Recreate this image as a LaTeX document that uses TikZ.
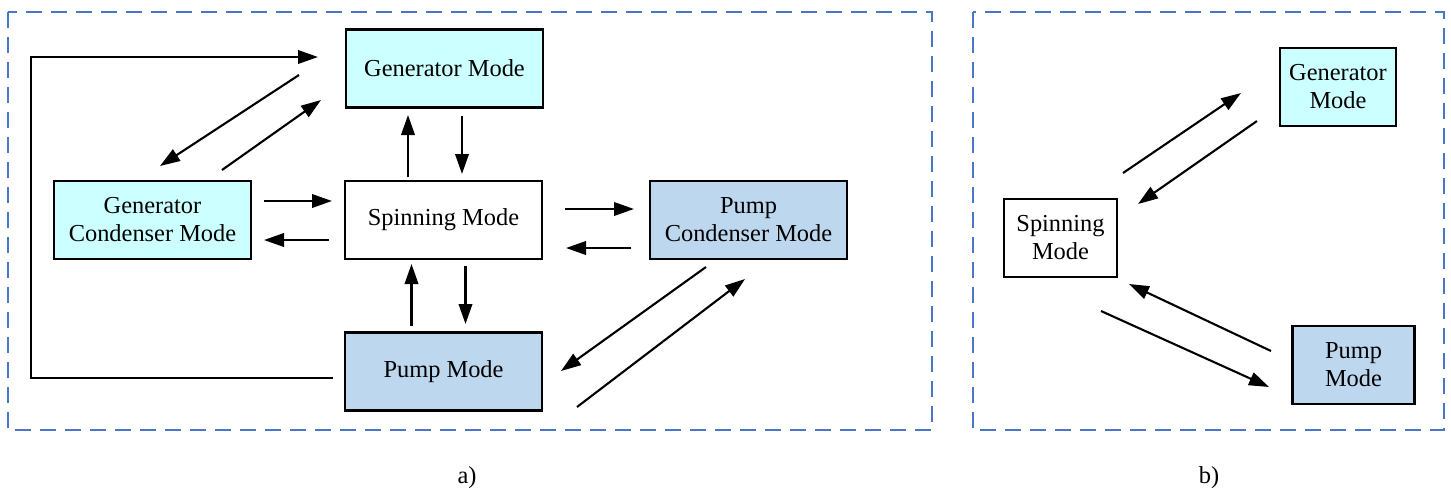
\documentclass[tikz,border=0pt]{standalone}
\usepackage{fontspec}
\setmainfont{Liberation Serif}
\usetikzlibrary{arrows.meta}
\definecolor{gcyan}{HTML}{CCFFFF}
\definecolor{pblue}{HTML}{BDD7EE}
\definecolor{frameblue}{HTML}{4A76C8}
\begin{document}
\begin{tikzpicture}[x=1pt,y=-1pt,
  mode/.style={draw=black,line width=2.2pt,inner sep=0pt,align=center,
    minimum width=197pt,minimum height=78pt,
    font=\fontsize{24.4}{28}\selectfont},
  genmode/.style={mode,fill=gcyan},
  pumpmode/.style={mode,fill=pblue},
  spinmode/.style={mode,fill=white},
  arr/.style={line width=2.1pt,-{Triangle[length=20pt,width=13.5pt]}},
  frame/.style={draw=frameblue,line width=2pt,dash pattern=on 16pt off 9pt},
  lbl/.style={font=\fontsize{24.4}{28}\selectfont}]
\useasboundingbox (0,0) rectangle (1451,491);
% frames
\draw[frame] (8,12) rectangle (932,430);
\draw[frame] (973,12) rectangle (1444,430);
% panel a nodes
\node[genmode]  (gen)   at (444.5,68.5) {Generator Mode};
\node[genmode]  (gcond) at (152.5,220) {Generator\\Condenser Mode};
\node[spinmode] (spin)  at (443.5,220) {Spinning Mode};
\node[pumpmode] (pcond) at (748.5,220) {Pump\\Condenser Mode};
\node[pumpmode] (pump)  at (443.5,371.5) {Pump Mode};
\coordinate (lpb) at (31,378);
\coordinate (lpt) at (31,57);
% panel a connectors
\draw[arr] ([shift={(-111,6.5)}]pump.center) -- (lpb) -- (lpt) -- ([shift={(-126.5,-11.5)}]gen.center);
\draw[arr] ([shift={(-145.5,6.5)}]gen.center) -- ([shift={(7.5,-54)}]gcond.center);
\draw[arr] ([shift={(69.5,-50)}]gcond.center) -- ([shift={(-123.5,31.5)}]gen.center);
\draw[arr] ([shift={(-35.5,-43)}]spin.center) -- ([shift={(-36.5,46.5)}]gen.center);
\draw[arr] ([shift={(17.5,47.5)}]gen.center) -- ([shift={(18.5,-46)}]spin.center);
\draw[arr] ([shift={(111.5,-19)}]gcond.center) -- ([shift={(-111.5,-19)}]spin.center);
\draw[arr] ([shift={(-114.5,20)}]spin.center) -- ([shift={(111.5,20)}]gcond.center);
\draw[arr] ([shift={(-32,-45.5)}]pump.center) -- ([shift={(-32,44)}]spin.center);
\draw[arr] ([shift={(22,46)}]spin.center) -- ([shift={(22,-47.5)}]pump.center);
\draw[arr] ([shift={(121.5,-11)}]spin.center) -- ([shift={(-114.5,-11)}]pcond.center);
\draw[arr] ([shift={(-117.5,28)}]pcond.center) -- ([shift={(122.5,28)}]spin.center);
\draw[arr] ([shift={(-42.5,47)}]pcond.center) -- ([shift={(117.5,-0.5)}]pump.center);
\draw[arr] ([shift={(133.5,35.5)}]pump.center) -- ([shift={(-3.5,59)}]pcond.center);
% panel b nodes
\node[genmode,minimum width=116pt]  (gen2)  at (1338,87) {Generator\\Mode};
\node[spinmode,minimum width=113pt] (spin2) at (1060.5,237.7) {Spinning\\Mode};
\node[pumpmode,minimum width=122pt] (pump2) at (1353.5,365) {Pump\\Mode};
% panel b connectors
\draw[arr] ([shift={(62.5,-64.7)}]spin2.center) -- ([shift={(-97,6)}]gen2.center);
\draw[arr] ([shift={(-81,34)}]gen2.center) -- ([shift={(77.5,-33.7)}]spin2.center);
\draw[arr] ([shift={(-82.5,-14)}]pump2.center) -- ([shift={(68.5,46.3)}]spin2.center);
\draw[arr] ([shift={(40.5,73.3)}]spin2.center) -- ([shift={(-84.5,22)}]pump2.center);
% captions
\node[lbl] (capa) at (467,478) {a)};
\node[lbl] (capb) at (1209,478) {b)};
\end{tikzpicture}
\end{document}
